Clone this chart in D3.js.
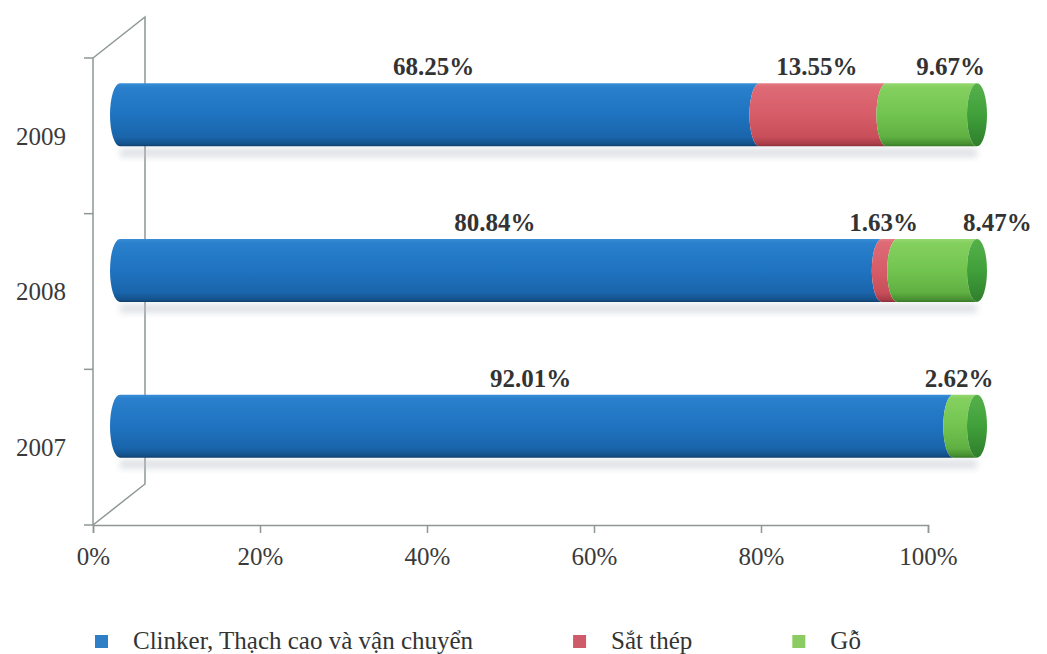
<!DOCTYPE html>
<html><head><meta charset="utf-8">
<script src="https://cdn.jsdelivr.net/npm/d3@7"></script>
<style>
html,body{margin:0;padding:0;background:#fff;}
svg{display:block;}
</style></head>
<body>
<svg id="chart" width="1047" height="654"></svg>
<script>
// ---- data ----
const years = ["2009", "2008", "2007"];               // top to bottom
const seriesNames = ["Clinker, Thạch cao và vận chuyển", "Sắt thép", "Gỗ"];
const clinker = [68.25, 80.84, 92.01];
const satThep = [13.55, 1.63, 0];
const go = [9.67, 8.47, 2.62];
const xTicks = [0, 0.2, 0.4, 0.6, 0.8, 1];

const FONT = "'Liberation Serif', 'Times New Roman', Tinos, Times, 'DejaVu Serif', 'Noto Serif', serif";
const colors = {
  legend: ["#2f7fc6", "#cf5a6a", "#8ccb62"]
};

const svg = d3.select("#chart").attr("font-family", FONT);

const table = years.map((y, i) => ({year: y, s0: clinker[i], s1: satThep[i], s2: go[i]}));
const keys = ["s0", "s1", "s2"];
const stack = d3.stack().keys(keys).offset(d3.stackOffsetExpand);
const stacked = stack(table);

// scales
const xFront = d3.scaleLinear().domain([0, 1]).range([93, 928]);
const xBar = d3.scaleLinear().domain([0, 1]).range([120, 977]);
const yBand = d3.scaleBand().domain(years).range([58, 525]);
const depth = {dx: 52, dy: -41};
const barRy = 31.5, barRx = 10, barLift = 21;

// gradients
const defs = svg.append("defs");
function vgrad(id, stops) {
  const g = defs.append("linearGradient").attr("id", id)
    .attr("x1", 0).attr("y1", 0).attr("x2", 0).attr("y2", 1);
  stops.forEach(s => g.append("stop").attr("offset", s[0]).attr("stop-color", s[1]));
}
vgrad("g0", [[0, "#3a8ed6"], [0.06, "#2a80cc"], [0.5, "#1f73c0"], [0.85, "#1a65ab"], [0.96, "#14528c"], [1, "#0f3f6c"]]);
vgrad("g1", [[0, "#e47c86"], [0.06, "#dd6a75"], [0.5, "#d65c68"], [0.85, "#c84e5a"], [0.96, "#a93d48"], [1, "#8a303a"]]);
vgrad("g2", [[0, "#96d870"], [0.06, "#84d05e"], [0.5, "#72c450"], [0.85, "#5fb042"], [0.96, "#489032"], [1, "#387828"]]);
vgrad("gcap", [[0, "#56b04a"], [0.5, "#40a03a"], [1, "#2f7e2c"]]);
const blur = defs.append("filter").attr("id", "blur").attr("x", "-10%").attr("y", "-50%").attr("width", "120%").attr("height", "200%");
blur.append("feGaussianBlur").attr("stdDeviation", 3);

// back wall / frame
const frame = svg.append("g").attr("stroke", "#8e9696").attr("stroke-width", 1.5).attr("fill", "none");
const [yTop, yBot] = yBand.range();
const x0 = xFront(0);
frame.append("path").attr("d", d3.line()([
  [x0, yTop], [x0 + depth.dx, yTop + depth.dy], [x0 + depth.dx, yBot + depth.dy], [x0, yBot]
]));
frame.append("line").attr("x1", x0).attr("x2", x0).attr("y1", yTop).attr("y2", yBot);
const bounds = years.map(y => yBand(y)).concat([yBot]);
frame.selectAll(".yt").data(bounds).join("line")
  .attr("x1", x0 - 9).attr("x2", x0).attr("y1", d => d).attr("y2", d => d);

// x axis
const xAxis = svg.append("g").attr("transform", `translate(0,${yBot})`)
  .call(d3.axisBottom(xFront).tickValues(xTicks).tickFormat(d3.format(".0%")).tickSize(8).tickPadding(14));
xAxis.attr("font-family", FONT);
xAxis.select(".domain").attr("stroke", "#8e9696").attr("stroke-width", 1.5);
xAxis.selectAll(".tick line").attr("stroke", "#8e9696").attr("stroke-width", 1.5);
xAxis.selectAll(".tick text").attr("font-size", 25).attr("fill", "#3a3a3a");

// year labels
svg.append("g").selectAll("text").data(years).join("text")
  .attr("x", 41).attr("y", d => yBand(d) + yBand.bandwidth() / 2)
  .attr("dy", "0.35em").attr("text-anchor", "middle")
  .attr("font-size", 25).attr("fill", "#3a3a3a").text(d => d);

const cy = y => yBand(y) + yBand.bandwidth() / 2 - barLift;

// shadows
svg.append("g").selectAll("rect").data(years).join("rect")
  .attr("x", xBar(0)).attr("width", xBar(1) - xBar(0))
  .attr("y", d => cy(d) + barRy + 2).attr("height", 9)
  .attr("fill", "#b8bec6").attr("opacity", 0.45).attr("filter", "url(#blur)");

function segPath(a, b, c) {
  return `M${a},${c - barRy}L${b},${c - barRy}` +
    `A${barRx},${barRy} 0 0 0 ${b},${c + barRy}` +
    `L${a},${c + barRy}` +
    `A${barRx},${barRy} 0 0 1 ${a},${c - barRy}Z`;
}
const barsG = svg.append("g");
stacked.forEach((layer, si) => {
  barsG.append("g").selectAll("path").data(layer.filter(d => xBar(d[1]) - xBar(d[0]) > 0.5)).join("path")
    .attr("d", d => segPath(xBar(d[0]), xBar(d[1]), cy(d.data.year)))
    .attr("fill", `url(#g${si})`);
});
barsG.append("g").selectAll("ellipse").data(years).join("ellipse")
  .attr("cx", xBar(1)).attr("cy", d => cy(d)).attr("rx", barRx).attr("ry", barRy)
  .attr("fill", "url(#gcap)");

// data labels with simple collision push to the right
const fmt = d3.format(".2f");
const labelsG = svg.append("g");
years.forEach((y, i) => {
  let prevEnd = -Infinity;
  stacked.forEach((layer, si) => {
    const d = layer[i];
    const v = d.data[keys[si]];
    if (!v) return;
    const t = labelsG.append("text")
      .attr("font-size", 25).attr("font-weight", "bold").attr("fill", "#333")
      .attr("text-anchor", "middle")
      .attr("y", cy(y) - barRy - 8)
      .text(fmt(v) + "%");
    const w = t.node().getComputedTextLength();
    let cx = (xBar(d[0]) + xBar(d[1])) / 2 - 6;
    if (si === keys.length - 1) cx = Math.max(cx, xBar(1) - w / 2 + 8);
    if (cx - w / 2 < prevEnd + 45) cx = prevEnd + 45 + w / 2;
    t.attr("x", cx);
    prevEnd = cx + w / 2;
  });
});

// legend
const lg = svg.append("g");
let lx = 95;
seriesNames.forEach((name, i) => {
  lg.append("rect").attr("x", lx).attr("y", 635).attr("width", 13).attr("height", 13)
    .attr("fill", colors.legend[i]);
  const t = lg.append("text").attr("x", lx + 38).attr("y", 649)
    .attr("font-size", 25).attr("fill", "#333").text(name);
  lx = lx + 38 + t.node().getComputedTextLength() + 100;
});
</script>
</body></html>
